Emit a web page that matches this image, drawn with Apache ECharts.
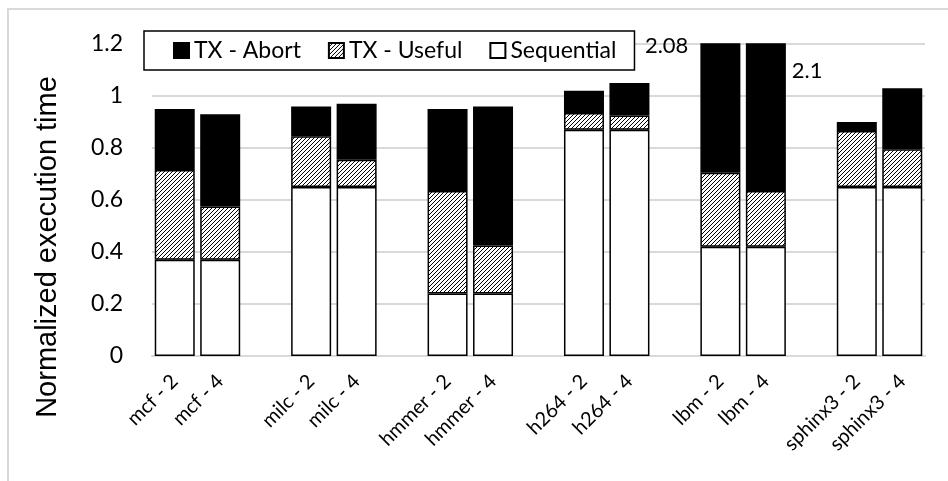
<!DOCTYPE html>
<html>
<head>
<meta charset="utf-8">
<script src="https://cdn.jsdelivr.net/npm/echarts@6/dist/echarts.min.js"></script>
<style>
  html, body { margin: 0; padding: 0; background: #fff; }
  #chart { width: 948px; height: 481px; }
</style>
</head>
<body>
<div id="chart"></div>
<script>
const benchmarks = [
  'mcf - 2', 'mcf - 4',
  'milc - 2', 'milc - 4',
  'hmmer - 2', 'hmmer - 4',
  'h264 - 2', 'h264 - 4',
  'lbm - 2', 'lbm - 4',
  'sphinx3 - 2', 'sphinx3 - 4',
]
const sequential = [0.37, 0.37, 0.65, 0.65, 0.24, 0.24, 0.87, 0.87, 0.42, 0.42, 0.65, 0.65]
const txUseful = [0.345, 0.205, 0.195, 0.105, 0.395, 0.185, 0.065, 0.055, 0.285, 0.215, 0.215, 0.145]
const txAbort = [0.235, 0.355, 0.115, 0.215, 0.315, 0.535, 0.085, 0.125, 1.375, 1.465, 0.035, 0.235]
const yTicks = [0, 0.2, 0.4, 0.6, 0.8, 1, 1.2]

const yMax = 1.2
const font = 'Lato'

// hatch pattern "/" for TX - Useful
function hatch() {
  const s = 4
  const c = document.createElement('canvas')
  c.width = s
  c.height = s
  const ctx = c.getContext('2d')
  ctx.fillStyle = '#fff'
  ctx.fillRect(0, 0, s, s)
  ctx.strokeStyle = '#000'
  ctx.lineWidth = 1
  ctx.beginPath()
  ctx.moveTo(-1, s + 1); ctx.lineTo(s + 1, -1)
  ctx.moveTo(-1, 1); ctx.lineTo(1, -1)
  ctx.moveTo(s - 1, s + 1); ctx.lineTo(s + 1, s - 1)
  ctx.stroke()
  return { image: c, repeat: 'repeat' }
}

// pairs of bars with an empty slot between the groups
const categories = []
const idx = []
benchmarks.forEach((b, i) => {
  if (i > 0 && i % 2 === 0) {
    categories.push('')
    idx.push(-1)
  }
  categories.push(b)
  idx.push(i)
})

function spread(arr, withLabel) {
  return idx.map(i => {
    if (i < 0) return null
    if (!withLabel) return arr[i]
    const total = parseFloat((sequential[i] + txUseful[i] + txAbort[i]).toFixed(2))
    if (total <= yMax) return arr[i]
    const left = i % 2 === 0
    return {
      value: arr[i],
      label: {
        show: true,
        formatter: String(total),
        position: left ? [-12, 3] : [46, 28],
        align: left ? 'right' : 'left',
        verticalAlign: 'middle',
        fontFamily: font,
        fontSize: 22,
        color: '#000',
      },
    }
  })
}

const chart = echarts.init(document.getElementById('chart'))

const barBase = {
  type: 'bar',
  stack: 'total',
  barWidth: 40,
  itemStyle: { borderColor: '#000', borderWidth: 1.5 },
  emphasis: { disabled: true },
}

const option = {
  backgroundColor: '#fff',
  animation: false,
  grid: { left: 152, right: 23, top: 44, bottom: 125 },
  legend: {
    left: 144,
    top: 31,
    padding: [8, 18, 8, 29],
    itemGap: 27,
    itemWidth: 15,
    itemHeight: 15,
    icon: 'rect',
    borderColor: '#000',
    borderWidth: 1.5,
    backgroundColor: '#fff',
    textStyle: { fontFamily: font, fontSize: 23, color: '#000' },
    data: ['TX - Abort', 'TX - Useful', 'Sequential'],
  },
  xAxis: {
    type: 'category',
    data: categories,
    axisLine: { lineStyle: { color: '#d9d9d9', width: 2 } },
    axisTick: { show: false },
    axisLabel: {
      interval: 0,
      rotate: 45,
      margin: 22,
      fontFamily: font,
      fontSize: 20,
      color: '#000',
    },
  },
  yAxis: {
    type: 'value',
    min: 0,
    max: yMax,
    interval: 0.2,
    axisLine: { show: false },
    axisTick: { show: false },
    splitLine: { lineStyle: { color: '#d9d9d9', width: 2 } },
    axisLabel: {
      margin: 29,
      fontFamily: font,
      fontSize: 23,
      color: '#000',
      formatter: v => String(yTicks.find(t => Math.abs(t - v) < 1e-6) ?? v),
    },
  },
  graphic: [
    {
      type: 'rect',
      shape: { x: 8, y: 9, width: 1000, height: 600 },
      style: { fill: 'none', stroke: '#d9d9d9', lineWidth: 2 },
      silent: true,
      z: -1,
    },
    {
      type: 'text',
      x: 48,
      y: 247,
      rotation: Math.PI / 2,
      style: {
        text: 'Normalized execution time',
        fontFamily: 'Liberation Sans',
        fontSize: 29,
        fill: '#000',
        align: 'center',
        verticalAlign: 'middle',
      },
    },
  ],
  series: [
    { ...barBase, name: 'Sequential', data: spread(sequential), itemStyle: { ...barBase.itemStyle, color: '#fff' } },
    { ...barBase, name: 'TX - Useful', data: spread(txUseful), itemStyle: { ...barBase.itemStyle, color: hatch() } },
    { ...barBase, name: 'TX - Abort', data: spread(txAbort, true), itemStyle: { ...barBase.itemStyle, color: '#000' } },
  ],
}

chart.setOption(option)
</script>
</body>
</html>
